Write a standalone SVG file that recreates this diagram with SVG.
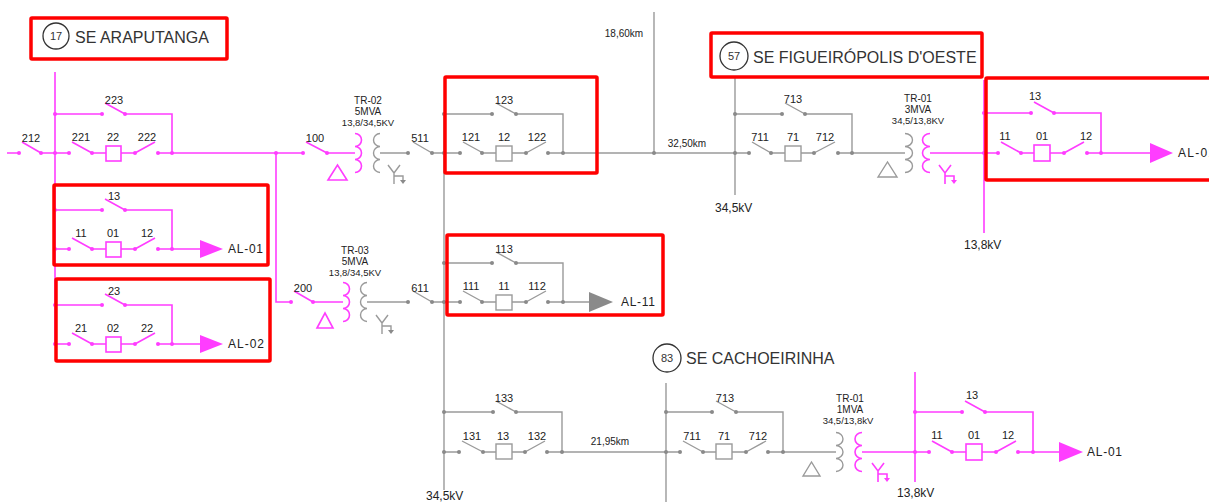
<svg xmlns="http://www.w3.org/2000/svg" width="1209" height="502" viewBox="0 0 1209 502">
<style>
text{font-family:"Liberation Sans",Arial,sans-serif;fill:#222}
.lb{font-size:11px;text-anchor:middle}
.tl{font-size:16px;fill:#333}
.cn{font-size:11px;text-anchor:middle;fill:#333}
.sm{font-size:10px;text-anchor:middle}
.sv{font-size:9.5px;text-anchor:middle}
.kv{font-size:12px}
.al{font-size:12px}
.pk path,.pk rect,path.pk{stroke:#ff3dff;stroke-width:1.6;fill:none}
.pk circle,circle.pk{fill:#ff3dff}
.pk polygon,polygon.pk{fill:#ff3dff}
.gy path,.gy rect,path.gy{stroke:#9a9a9a;stroke-width:1.4;fill:none}
.gy circle,circle.gy{fill:#8a8a8a}
.gy polygon,polygon.gy{fill:#8a8a8a}
.hl{stroke:#ff0000;stroke-width:3.5;fill:none}
.ring{stroke:#333;stroke-width:1.3;fill:none}
rect.box{fill:#fff}
</style>
<rect width="1209" height="502" fill="#fff"/>

<!-- connectors -->
<g id="connectors">
  <g class="pk">
    <path d="M7 153H19 M22 142L41 153 M41 153H55 M55 72V344 M172 153H303 M276 153V302H291 M306 142L327 153 M327 153H355 M294 291L313 302 M313 302H343 M930 153H984 M984 80V233 M862 452H915 M915 372V482"/>
    <circle cx="19" cy="153" r="2"/><circle cx="41" cy="153" r="2"/>
    <circle cx="276" cy="153" r="2"/><circle cx="291" cy="302" r="2"/>
    <circle cx="303" cy="153" r="2"/><circle cx="327" cy="153" r="2"/>
    <circle cx="313" cy="302" r="2"/>
  </g>
  <g class="gy">
    <path d="M380 153H408 M413 142L432 153 M432 153H444 M367 302H408 M413 291L432 302 M432 302H444 M444 113V490 M563 153H735 M654 12V153 M735 77V195 M852 153H905 M562 452H666 M666 383V502 M783 452H836"/>
    <circle cx="408" cy="153" r="2"/><circle cx="432" cy="153" r="2"/>
    <circle cx="408" cy="302" r="2"/><circle cx="432" cy="302" r="2"/>
    <circle cx="654" cy="153" r="2"/>
  </g>
</g>

<!-- SE Araputanga -->
<g id="title-17">
  <circle class="ring" cx="56" cy="36" r="13"/>
  <text class="cn" x="56" y="40">17</text>
  <text class="tl" x="75" y="43">SE ARAPUTANGA</text>
</g>
<text class="lb" x="31" y="142">212</text>

<g id="bay-22" class="pk" transform="translate(69,153)">
  <path d="M-14 0H0 M3 -11L23 0 M23 0H37 M52 0H66 M66 0L86 -11 M89 0H103 M-14 -39H33 M36 -50L56 -39 M56 -39H103V0"/>
  <rect class="box" x="37" y="-7" width="15" height="15"/>
  <circle cx="-14" cy="0" r="2"/><circle cx="0" cy="0" r="2"/><circle cx="23" cy="0" r="2"/><circle cx="66" cy="0" r="2"/><circle cx="89" cy="0" r="2"/><circle cx="103" cy="0" r="2"/>
  <circle cx="-14" cy="-39" r="2"/><circle cx="33" cy="-39" r="2"/><circle cx="56" cy="-39" r="2"/>
  <text class="lb" x="12" y="-12">221</text><text class="lb" x="44" y="-12">22</text><text class="lb" x="78" y="-12">222</text><text class="lb" x="45" y="-49">223</text>
</g>

<g id="bay-01" class="pk" transform="translate(69,249)">
  <path d="M-14 0H0 M3 -11L23 0 M23 0H37 M52 0H66 M66 0L86 -11 M89 0H103 M-14 -39H33 M36 -50L56 -39 M56 -39H103V0 M103 0H131"/>
  <rect class="box" x="37" y="-7" width="15" height="15"/>
  <polygon points="131,-9 154,0 131,9"/>
  <circle cx="-14" cy="0" r="2"/><circle cx="0" cy="0" r="2"/><circle cx="23" cy="0" r="2"/><circle cx="66" cy="0" r="2"/><circle cx="89" cy="0" r="2"/><circle cx="103" cy="0" r="2"/>
  <circle cx="-14" cy="-39" r="2"/><circle cx="33" cy="-39" r="2"/><circle cx="56" cy="-39" r="2"/>
  <text class="lb" x="12" y="-12">11</text><text class="lb" x="44" y="-12">01</text><text class="lb" x="78" y="-12">12</text><text class="lb" x="45" y="-49">13</text>
  <text class="al" x="159" y="4" textLength="35" lengthAdjust="spacing">AL-01</text>
</g>

<g id="bay-02" class="pk" transform="translate(69,344)">
  <path d="M-14 0H0 M3 -11L23 0 M23 0H37 M52 0H66 M66 0L86 -11 M89 0H103 M-14 -39H33 M36 -50L56 -39 M56 -39H103V0 M103 0H131"/>
  <rect class="box" x="37" y="-7" width="15" height="15"/>
  <polygon points="131,-9 154,0 131,9"/>
  <circle cx="-14" cy="0" r="2"/><circle cx="0" cy="0" r="2"/><circle cx="23" cy="0" r="2"/><circle cx="66" cy="0" r="2"/><circle cx="89" cy="0" r="2"/><circle cx="103" cy="0" r="2"/>
  <circle cx="-14" cy="-39" r="2"/><circle cx="33" cy="-39" r="2"/><circle cx="56" cy="-39" r="2"/>
  <text class="lb" x="12" y="-12">21</text><text class="lb" x="44" y="-12">02</text><text class="lb" x="78" y="-12">22</text><text class="lb" x="45" y="-49">23</text>
  <text class="al" x="159" y="4" textLength="36" lengthAdjust="spacing">AL-02</text>
</g>

<!-- TR-02 -->
<g id="tr-02">
  <text class="lb" x="315" y="142">100</text>
  <text class="sm" x="368" y="104">TR-02</text>
  <text class="sm" x="368" y="115">5MVA</text>
  <text class="sv" x="368" y="126">13,8/34,5KV</text>
  <path class="pk" d="M355 133.5a6.5 6.5 0 0 1 0 13a6.5 6.5 0 0 1 0 13a6.5 6.5 0 0 1 0 13"/>
  <path class="gy" d="M380 133.5a6.5 6.5 0 0 0 0 13a6.5 6.5 0 0 0 0 13a6.5 6.5 0 0 0 0 13"/>
  <polygon points="328,180 337.5,165 347,180" style="fill:none;stroke:#ff3dff;stroke-width:1.6"/>
  <path class="gy" d="M388 165L394 173L400 165M394 173V184M394 176H403V181"/>
  <polygon class="gy" points="400,180 406,180 403,184"/>
  <text class="lb" x="420" y="142">511</text>
</g>

<!-- TR-03 -->
<g id="tr-03">
  <text class="lb" x="303" y="292">200</text>
  <text class="sm" x="355" y="254">TR-03</text>
  <text class="sm" x="355" y="265">5MVA</text>
  <text class="sv" x="355" y="276">13,8/34,5KV</text>
  <path class="pk" d="M343 282.5a6.5 6.5 0 0 1 0 13a6.5 6.5 0 0 1 0 13a6.5 6.5 0 0 1 0 13"/>
  <path class="gy" d="M367 282.5a6.5 6.5 0 0 0 0 13a6.5 6.5 0 0 0 0 13a6.5 6.5 0 0 0 0 13"/>
  <polygon points="317,328 325,313 333,328" style="fill:none;stroke:#ff3dff;stroke-width:1.6"/>
  <path class="gy" d="M376 315L382 323L388 315M382 323V334M382 326H391V331"/>
  <polygon class="gy" points="388,330 394,330 391,334"/>
  <text class="lb" x="420" y="292">611</text>
</g>

<text class="sm" x="624" y="37">18,60km</text>
<text class="sm" x="687" y="147">32,50km</text>
<text class="sm" x="610" y="445">21,95km</text>
<text class="kv" x="426" y="500">34,5kV</text>

<g id="bay-12" class="gy" transform="translate(460,153)">
  <path d="M-16 0H0 M3 -11L23 0 M23 0H37 M52 0H66 M66 0L86 -11 M89 0H103 M-16 -39H33 M36 -50L56 -39 M56 -39H103V0"/>
  <rect class="box" x="36" y="-7" width="16" height="15"/>
  <circle cx="-16" cy="0" r="2"/><circle cx="0" cy="0" r="2"/><circle cx="22" cy="0" r="2"/><circle cx="66" cy="0" r="2"/><circle cx="88" cy="0" r="2"/><circle cx="103" cy="0" r="2"/>
  <circle cx="-16" cy="-39" r="2"/><circle cx="32" cy="-39" r="2"/><circle cx="56" cy="-39" r="2"/>
  <text class="lb" x="11" y="-12">121</text><text class="lb" x="44" y="-12">12</text><text class="lb" x="77" y="-12">122</text><text class="lb" x="44" y="-49">123</text>
</g>

<g id="bay-11" class="gy" transform="translate(460,302)">
  <path d="M-16 0H0 M3 -11L23 0 M23 0H37 M52 0H66 M66 0L86 -11 M89 0H103 M-16 -39H33 M36 -50L56 -39 M56 -39H103V0 M103 0H129"/>
  <rect class="box" x="36" y="-7" width="16" height="15"/>
  <polygon points="129,-10 153,0 129,10"/>
  <circle cx="-16" cy="0" r="2"/><circle cx="0" cy="0" r="2"/><circle cx="22" cy="0" r="2"/><circle cx="66" cy="0" r="2"/><circle cx="88" cy="0" r="2"/><circle cx="103" cy="0" r="2"/>
  <circle cx="-16" cy="-39" r="2"/><circle cx="32" cy="-39" r="2"/><circle cx="56" cy="-39" r="2"/>
  <text class="lb" x="11" y="-12">111</text><text class="lb" x="44" y="-12">11</text><text class="lb" x="77" y="-12">112</text><text class="lb" x="44" y="-49">113</text>
  <text class="al" x="161" y="4" textLength="34" lengthAdjust="spacing">AL-11</text>
</g>

<g id="bay-13" class="gy" transform="translate(459,452)">
  <path d="M-15 0H0 M3 -11L24 0 M24 0H37 M53 0H66 M66 0L86 -11 M88 0H103 M-15 -40H34 M37 -51L57 -40 M57 -40H103V0"/>
  <rect class="box" x="37" y="-8" width="16" height="15"/>
  <circle cx="-15" cy="0" r="2"/><circle cx="0" cy="0" r="2"/><circle cx="24" cy="0" r="2"/><circle cx="66" cy="0" r="2"/><circle cx="88" cy="0" r="2"/><circle cx="103" cy="0" r="2"/>
  <circle cx="-15" cy="-40" r="2"/><circle cx="34" cy="-40" r="2"/><circle cx="57" cy="-40" r="2"/>
  <text class="lb" x="13" y="-12">131</text><text class="lb" x="44" y="-12">13</text><text class="lb" x="78" y="-12">132</text><text class="lb" x="45" y="-50">133</text>
</g>

<!-- SE Figueiropolis -->
<g id="title-57">
  <circle class="ring" cx="734" cy="56" r="14"/>
  <text class="cn" x="734" y="60">57</text>
  <text class="tl" x="753" y="63">SE FIGUEIRÓPOLIS D'OESTE</text>
</g>
<text class="kv" x="715" y="212">34,5kV</text>

<g id="bay-71a" class="gy" transform="translate(749,153)">
  <path d="M-14 0H0 M3 -11L22 0 M22 0H36 M52 0H65 M65 0L86 -11 M89 0H103 M-14 -39H33 M36 -50L56 -39 M56 -39H103V0"/>
  <rect class="box" x="36" y="-7" width="16" height="15"/>
  <circle cx="-14" cy="0" r="2"/><circle cx="0" cy="0" r="2"/><circle cx="22" cy="0" r="2"/><circle cx="65" cy="0" r="2"/><circle cx="89" cy="0" r="2"/><circle cx="103" cy="0" r="2"/>
  <circle cx="-14" cy="-39" r="2"/><circle cx="33" cy="-39" r="2"/><circle cx="56" cy="-39" r="2"/>
  <text class="lb" x="11" y="-12">711</text><text class="lb" x="44" y="-12">71</text><text class="lb" x="76" y="-12">712</text><text class="lb" x="44" y="-50">713</text>
</g>

<g id="tr-01a">
  <text class="sm" x="918" y="102">TR-01</text>
  <text class="sm" x="918" y="113">3MVA</text>
  <text class="sv" x="918" y="124">34,5/13,8KV</text>
  <path class="gy" d="M905 133.5a7.5 6.5 0 0 1 0 13a7.5 6.5 0 0 1 0 13a7.5 6.5 0 0 1 0 13"/>
  <path class="pk" d="M930 133.5a7.5 6.5 0 0 0 0 13a7.5 6.5 0 0 0 0 13a7.5 6.5 0 0 0 0 13"/>
  <polygon points="878,177 887.5,162 897,177" style="fill:none;stroke:#9a9a9a;stroke-width:1.4"/>
  <path class="pk" d="M939 165L945 173L951 165M945 173V184M945 176H954V181"/>
  <polygon class="pk" points="951,180 957,180 954,184"/>
</g>
<text class="kv" x="964" y="249">13,8kV</text>

<g id="bay-01b" class="pk" transform="translate(998,153)">
  <path d="M-14 0H0 M3 -11L23 0 M23 0H36 M52 0H66 M66 0L86 -11 M89 0H103 M-14 -40H33 M36 -51L56 -40 M56 -40H103V0 M103 0H152"/>
  <rect class="box" x="36" y="-8" width="16" height="16"/>
  <polygon points="152,-10 175,0 152,10"/>
  <circle cx="-14" cy="0" r="2"/><circle cx="0" cy="0" r="2"/><circle cx="23" cy="0" r="2"/><circle cx="66" cy="0" r="2"/><circle cx="89" cy="0" r="2"/><circle cx="103" cy="0" r="2"/>
  <circle cx="-14" cy="-40" r="2"/><circle cx="33" cy="-40" r="2"/><circle cx="56" cy="-40" r="2"/>
  <text class="lb" x="7" y="-13">11</text><text class="lb" x="44" y="-13">01</text><text class="lb" x="88" y="-13">12</text><text class="lb" x="37" y="-53">13</text>
  <text class="al" x="180" y="4" textLength="37" lengthAdjust="spacing">AL-01</text>
</g>

<!-- SE Cachoeirinha -->
<g id="title-83">
  <circle class="ring" cx="667" cy="358" r="14"/>
  <text class="cn" x="667" y="362">83</text>
  <text class="tl" x="686" y="364">SE CACHOEIRINHA</text>
</g>

<g id="bay-71b" class="gy" transform="translate(680,452)">
  <path d="M-14 0H0 M3 -11L23 0 M23 0H36 M52 0H66 M66 0L86 -11 M88 0H103 M-14 -40H32 M36 -51L56 -40 M56 -40H103V0"/>
  <rect class="box" x="36" y="-8" width="16" height="15"/>
  <circle cx="-14" cy="0" r="2"/><circle cx="0" cy="0" r="2"/><circle cx="23" cy="0" r="2"/><circle cx="66" cy="0" r="2"/><circle cx="88" cy="0" r="2"/><circle cx="103" cy="0" r="2"/>
  <circle cx="-14" cy="-40" r="2"/><circle cx="32" cy="-40" r="2"/><circle cx="56" cy="-40" r="2"/>
  <text class="lb" x="12" y="-12">711</text><text class="lb" x="44" y="-12">71</text><text class="lb" x="78" y="-12">712</text><text class="lb" x="45" y="-50">713</text>
</g>

<g id="tr-01b">
  <text class="sm" x="850" y="402">TR-01</text>
  <text class="sm" x="850" y="413">1MVA</text>
  <text class="sv" x="848" y="424">34,5/13,8kV</text>
  <path class="gy" d="M836 432.5a7 6.5 0 0 1 0 13a7 6.5 0 0 1 0 13a7 6.5 0 0 1 0 13"/>
  <path class="pk" d="M862 432.5a7 6.5 0 0 0 0 13a7 6.5 0 0 0 0 13a7 6.5 0 0 0 0 13"/>
  <polygon points="803,476 811.5,462 820,476" style="fill:none;stroke:#9a9a9a;stroke-width:1.4"/>
  <path class="pk" d="M872 463L878 471L884 463M878 471V482M878 474H887V479"/>
  <polygon class="pk" points="884,478 890,478 887,482"/>
</g>
<text class="kv" x="897" y="497">13,8kV</text>

<g id="bay-01c" class="pk" transform="translate(929,452)">
  <path d="M-14 0H0 M3 -11L23 0 M23 0H37 M53 0H67 M67 0L87 -11 M89 0H104 M-14 -40H33 M36 -51L56 -40 M56 -40H104V0 M104 0H130"/>
  <rect class="box" x="37" y="-8" width="16" height="16"/>
  <polygon points="130,-10 154,0 130,10"/>
  <circle cx="-14" cy="0" r="2"/><circle cx="0" cy="0" r="2"/><circle cx="23" cy="0" r="2"/><circle cx="67" cy="0" r="2"/><circle cx="89" cy="0" r="2"/><circle cx="104" cy="0" r="2"/>
  <circle cx="-14" cy="-40" r="2"/><circle cx="33" cy="-40" r="2"/><circle cx="56" cy="-40" r="2"/>
  <text class="lb" x="8" y="-13">11</text><text class="lb" x="45" y="-13">01</text><text class="lb" x="79" y="-13">12</text><text class="lb" x="43" y="-53">13</text>
  <text class="al" x="158" y="4" textLength="35" lengthAdjust="spacing">AL-01</text>
</g>

<!-- highlight boxes -->
<g id="highlights">
  <rect class="hl" x="31" y="18" width="196" height="41" rx="1"/>
  <rect class="hl" x="54" y="185" width="214" height="80" rx="1"/>
  <rect class="hl" x="56" y="279" width="214" height="82" rx="1"/>
  <rect class="hl" x="445" y="77" width="152" height="96" rx="1"/>
  <rect class="hl" x="447" y="235" width="216" height="80" rx="1"/>
  <rect class="hl" x="711" y="33" width="271" height="44" rx="1"/>
  <rect class="hl" x="986" y="78" width="230" height="102" rx="1"/>
</g>
</svg>
